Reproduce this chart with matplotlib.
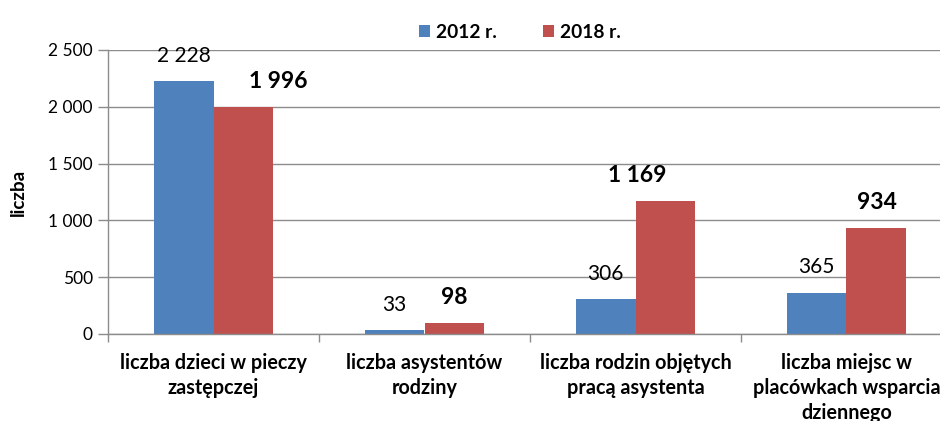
import matplotlib
matplotlib.use("Agg")
import matplotlib.pyplot as plt
import numpy as np

categories = ["liczba dzieci w pieczy\nzastępczej", "liczba asystentów\nrodziny",
              "liczba rodzin objętych\npracą asystenta", "liczba miejsc w\nplacówkach wsparcia\ndziennego"]
series_names = ["2012 r.", "2018 r."]
values_2012 = [2228, 33, 306, 365]
values_2018 = [1996, 98, 1169, 934]
yticks = [0, 500, 1000, 1500, 2000, 2500]

# horizontal nudges (points) of the bold 2018 labels, as placed in the original
label_shift_2018 = [25, 0, -20, 0]

def fmt(v):
    return f"{v:,}".replace(",", " ")

plt.rcParams['font.family'] = ['Lato', 'DejaVu Sans']
fig = plt.figure(figsize=(9.4, 4.21), dpi=100)
ax = fig.add_axes([108/940, 87/421, 844/940, 284/421])

x = np.arange(len(categories))
w = 0.284
blue, red = "#4F81BD", "#C0504D"
ax.bar(x - w/2, values_2012, w, color=blue, label=series_names[0])
ax.bar(x + w/2, values_2018, w, color=red, label=series_names[1])

for xi, v in zip(x - w/2, values_2012):
    ax.annotate(fmt(v), (xi, v), xytext=(0, 11), textcoords="offset points",
                ha="center", va="bottom", fontsize=15)
for xi, v, dx in zip(x + w/2, values_2018, label_shift_2018):
    ax.annotate(fmt(v), (xi, v), xytext=(dx, 11), textcoords="offset points",
                ha="center", va="bottom", fontsize=16.5, fontweight="bold")

ax.set_xlim(-0.5, len(categories) - 0.5)
ax.set_ylim(0, 2500)
ax.set_yticks(yticks)
ax.set_yticklabels([fmt(t) for t in yticks], fontsize=12.5)
ax.yaxis.grid(True, color="#8c8c8c", linewidth=1)
ax.set_axisbelow(True)
ax.set_xticks(x)
ax.set_xticklabels(categories, fontsize=14.2, fontweight="bold", linespacing=1.3)
ax.tick_params(axis="x", length=0, pad=14)
ax.set_xticks(np.arange(len(categories) + 1) - 0.5, minor=True)
ax.tick_params(axis="x", which="minor", length=6, color="#8c8c8c", width=1)
ax.tick_params(axis="y", length=7, color="#8c8c8c", width=1, pad=4)
for s in ["top", "right"]:
    ax.spines[s].set_visible(False)
for s in ["left", "bottom"]:
    ax.spines[s].set_color("#8c8c8c")
    ax.spines[s].set_linewidth(1)

ax.set_ylabel("liczba", fontsize=13.5, fontweight="bold", labelpad=15)

fig.legend(loc="upper center", bbox_to_anchor=(0.553, 0.985), ncol=2, frameon=False,
           prop={"weight": "bold", "size": 13.8}, handlelength=0.6, handleheight=0.6,
           columnspacing=2.4, handletextpad=0.3)

fig.savefig("out.png", dpi=100)
